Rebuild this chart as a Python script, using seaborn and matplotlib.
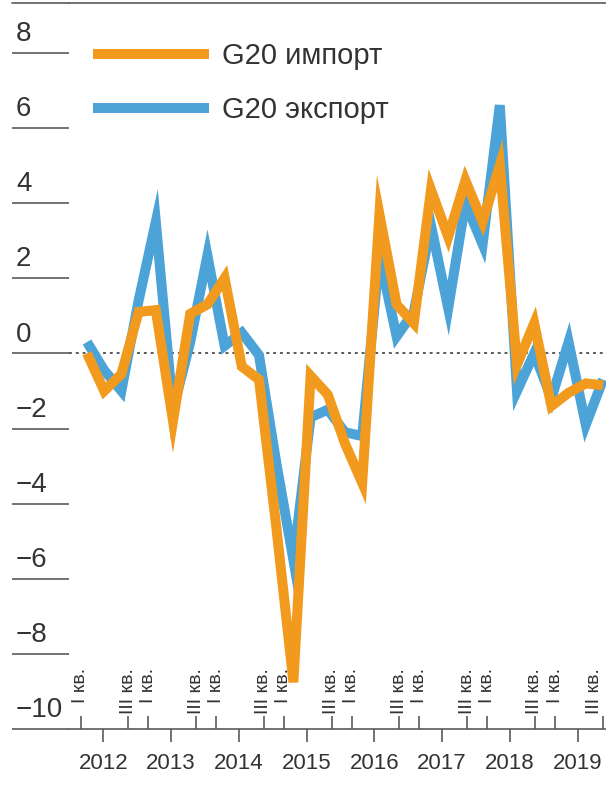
import numpy as np
import matplotlib
matplotlib.use("Agg")
import matplotlib.pyplot as plt
import seaborn as sns
from matplotlib.lines import Line2D

sns.set_style("white")
plt.rcParams['font.family'] = ['Liberation Sans', 'DejaVu Sans']

# quarterly values, 2012 Q1 .. 2019 Q3
import_vals = [0.0, -1.0, -0.55, 1.1, 1.15, -1.8, 1.05, 1.3, 2.0, -0.35, -0.7,
               -4.6, -8.75, -0.6, -1.1, -2.4, -3.45, 3.7, 1.3, 0.8, 4.35, 3.1,
               4.6, 3.5, 5.0, -0.3, 0.8, -1.4, -1.05, -0.8, -0.85]
export_vals = [0.3, -0.45, -1.0, 1.4, 3.5, -1.5, 0.3, 2.6, 0.2, 0.55, -0.05,
               -2.9, -5.5, -1.7, -1.5, -2.1, -2.2, 2.6, 0.45, 1.1, 3.4, 1.2,
               4.0, 2.9, 6.6, -1.0, 0.0, -1.2, 0.3, -1.9, -0.7]
years = ["2012", "2013", "2014", "2015", "2016", "2017", "2018", "2019"]
y_ticks = [-10, -8, -6, -4, -2, 0, 2, 4, 6, 8]
series_names = ["G20 импорт", "G20 экспорт"]

ORANGE = "#F29A1E"
BLUE = "#4CA3D8"
GREY = "#5a5a5a"
TEXT = "#333333"

W, H = 606, 787
fig = plt.figure(figsize=(W / 100, H / 100), dpi=100)
ax_left, ax_right, ax_top, ax_bottom = 68.5, 606, 3.3, 729.3
ax = fig.add_axes([ax_left / W, 1 - ax_bottom / H,
                   (ax_right - ax_left) / W, (ax_bottom - ax_top) / H])

q = np.arange(len(import_vals))
step = 17.2  # px per quarter
x0 = 87
xmax = (ax_right - x0) / step
ax.set_xlim((ax_left - x0) / step, xmax)
ax.set_ylim(-10, 9.31)

# zero line
ax.axhline(0, color=GREY, lw=1.4, dashes=(1.5, 2), zorder=1)

sns.lineplot(x=q, y=export_vals, color=BLUE, lw=7.2, ax=ax,
             solid_joinstyle="miter", solid_capstyle="butt", zorder=2)
sns.lineplot(x=q, y=import_vals, color=ORANGE, lw=7.2, ax=ax,
             solid_joinstyle="miter", solid_capstyle="butt", zorder=3)

for s in ["left", "right"]:
    ax.spines[s].set_visible(False)
for s in ["top", "bottom"]:
    ax.spines[s].set_color(GREY)
    ax.spines[s].set_linewidth(1.2)
fig.add_artist(Line2D([12 / W, ax_left / W], [1 - ax_top / H] * 2,
                      color=GREY, lw=1.2))

# y ticks as long underlines with labels above them
ax.set_yticks(y_ticks)
ax.set_yticklabels([])
ax.tick_params(axis="y", which="major", left=True, direction="out",
               length=40.9, width=1.2, color=GREY)
for v in y_ticks:
    lab = str(v).replace("-", "\u2212")
    ax.annotate(lab, xy=(16 / W, v), xycoords=("figure fraction", "data"),
                xytext=(0, 8.5), textcoords="offset points",
                ha="left", va="baseline", fontsize=20, color=TEXT)

# x axis: year ticks down, quarter ticks up
k = np.arange(len(years))
year_pos = 0.95 + 3.94 * k
q1_pos = -0.37 + 3.94 * k
q3_pos = 2.40 + 3.94 * k
ax.set_xticks(year_pos)
ax.set_xticklabels(years, fontsize=16, color=TEXT)
ax.tick_params(axis="x", which="major", bottom=True, direction="out",
               length=9.4, width=1.2, color=GREY, pad=8)
ax.set_xticks(np.concatenate([q1_pos, q3_pos]), minor=True)
ax.tick_params(axis="x", which="minor", bottom=True, direction="in",
               length=9.4, width=1.2, color=GREY)
label_top = (ax_bottom - 668) / (ax_bottom - ax_top)
half = 11.5 / step
for p in q1_pos:
    ax.text(min(p, xmax - half), label_top, "I кв.",
            transform=ax.get_xaxis_transform(), rotation=90,
            ha="center", va="top", fontsize=14, color=TEXT)
for p in q3_pos:
    ax.text(min(p, xmax - half), label_top, "III кв.",
            transform=ax.get_xaxis_transform(), rotation=90,
            ha="center", va="top", fontsize=14, color=TEXT)

handles = [Line2D([], [], color=ORANGE, lw=7.2, solid_capstyle="butt"),
           Line2D([], [], color=BLUE, lw=7.2, solid_capstyle="butt")]
fig.legend(handles, series_names, loc="upper left",
           bbox_to_anchor=(93 / W, 1 - 42 / H), frameon=False,
           prop={"family": "Liberation Sans", "size": 21},
           labelcolor=TEXT, handlelength=3.97, handletextpad=0.45,
           labelspacing=0.9, borderpad=0, borderaxespad=0)

fig.savefig("out.png", dpi=100)
